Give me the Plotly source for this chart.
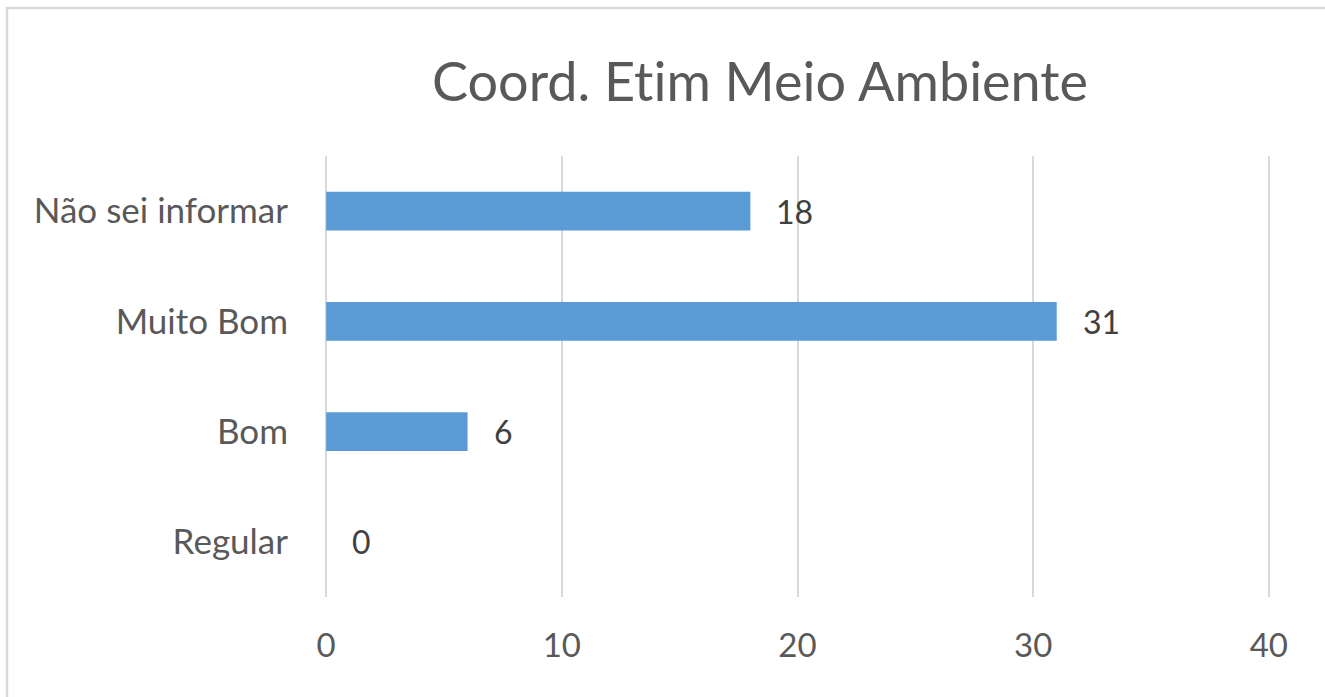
import plotly.graph_objects as go

categories = ["Regular", "Bom", "Muito Bom", "Não sei informar"]
values = [0, 6, 31, 18]
x_ticks = [0, 10, 20, 30, 40]
title_text = "Coord. Etim Meio Ambiente"

W, H = 1325, 697
L, R, T, B = 325, 55, 156, 100
pw, ph = W - L - R, H - T - B

FONT = "Lato"
TXT = "#595959"

fig = go.Figure()
fig.add_trace(go.Bar(
    y=categories, x=values, orientation="h",
    marker=dict(color="#5B9BD5", line=dict(width=0)),
    width=0.35, hoverinfo="skip",
))

for c, v in zip(categories, values):
    fig.add_annotation(x=v, y=c, text=str(v), showarrow=False,
                       xanchor="left", yanchor="middle", xshift=24,
                       font=dict(family=FONT, size=32, color="#404040"))

# chart frame
fig.add_shape(type="rect", xref="paper", yref="paper",
              x0=(7 - L) / pw, x1=(W + 20 - L) / pw,
              y0=-(H + 20 - T - ph) / ph, y1=1 + (T - 8) / ph,
              line=dict(color="#D9D9D9", width=2.5), layer="below")

fig.update_layout(
    width=W, height=H,
    margin=dict(l=L, r=R, t=T, b=B, autoexpand=False),
    paper_bgcolor="white", plot_bgcolor="white",
    showlegend=False,
    title=dict(text=title_text, x=760 / W, xref="container", xanchor="center",
               y=1 - 82 / H, yref="container", yanchor="middle",
               font=dict(family=FONT, size=54, color=TXT)),
    xaxis=dict(range=[-0.05, 40.05], tickvals=x_ticks, showgrid=True,
               gridcolor="#D9D9D9", gridwidth=2, zeroline=False,
               showline=False, ticks="", ticklabelstandoff=26,
               tickfont=dict(family=FONT, size=33, color=TXT)),
    yaxis=dict(categoryorder="array", categoryarray=categories,
               showgrid=False, zeroline=False, showline=False, ticks="",
               ticklabelstandoff=36,
               tickfont=dict(family=FONT, size=35, color=TXT)),
)

fig.write_html(
    "out.html", config={"displayModeBar": False},
    post_script=(
        "document.body.style.margin='0';"
        "document.body.style.overflow='hidden';"
        "var s=document.createElement('style');"
        "s.textContent='svg text{font-variant-ligatures:none;font-feature-settings:\"liga\" 0;}';"
        "document.head.appendChild(s);"
    ),
)
